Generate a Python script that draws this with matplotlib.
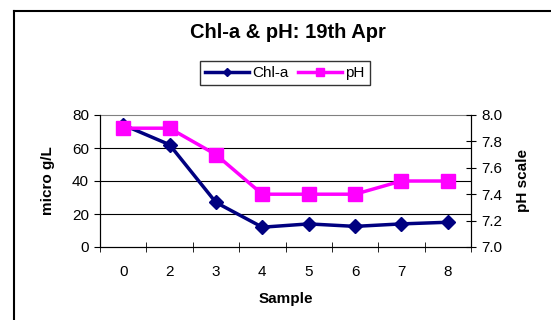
import matplotlib.pyplot as plt
from matplotlib.lines import Line2D
import numpy as np

plt.rcParams['font.family'] = ['Liberation Sans', 'DejaVu Sans']

samples = ['0', '2', '3', '4', '5', '6', '7', '8']
chla = [74, 62, 27, 12, 14, 12.5, 14, 15]
ph = [7.9, 7.9, 7.7, 7.4, 7.4, 7.4, 7.5, 7.5]

W, H = 551, 320
fig = plt.figure(figsize=(W / 100, H / 100), dpi=100)

# outer chart border (only left and top show in the crop)
fig.add_artist(Line2D([14 / W, 14 / W], [0, 1 - 11 / H], color='black', lw=1.5))
fig.add_artist(Line2D([14 / W, 1], [1 - 11 / H, 1 - 11 / H], color='black', lw=1.5))

ax = fig.add_axes([100 / W, 1 - 247 / H, 371 / W, 132 / H])
ax2 = ax.twinx()

x = np.arange(len(samples))
l1, = ax.plot(x, chla, color='#000080', lw=2.5, marker='D', ms=7.5, zorder=3,
              label='Chl-a')
l2, = ax2.plot(x, ph, color='#FF00FF', lw=2.5, marker='s', ms=9.5, zorder=3,
               label='pH')

ax.set_xlim(-0.5, len(samples) - 0.5)
ax.set_ylim(0, 80)
ax2.set_ylim(7.0, 8.0)
ax.set_yticks([0, 20, 40, 60, 80])
ax2.set_yticks([7.0, 7.2, 7.4, 7.6, 7.8, 8.0])
ax2.set_yticklabels(['7.0', '7.2', '7.4', '7.6', '7.8', '8.0'])

ax.set_xticks(x)
ax.set_xticklabels(samples)
ax.set_xticks(np.arange(-0.5, len(samples)), minor=True)
ax.tick_params(axis='x', which='major', length=0, pad=13, labelsize=11)
ax.tick_params(axis='x', which='minor', length=7, direction='inout')
ax.tick_params(axis='y', length=4, direction='out', labelsize=11, pad=4)
ax2.tick_params(axis='y', length=7, direction='inout', labelsize=11, pad=4)

for yv in [20, 40, 60]:
    ax.axhline(yv, color='black', lw=0.8, zorder=1)

ax.spines['top'].set_color('#808080')
for s in ['left', 'bottom']:
    ax.spines[s].set_color('black')
ax2.spines['right'].set_color('black')
ax2.spines['top'].set_visible(False)

ax.set_xlabel('Sample', fontsize=11, fontweight='bold', labelpad=9)
ax.set_ylabel('micro g/L', fontsize=11, fontweight='bold', labelpad=12)
ax2.set_ylabel('pH scale', fontsize=11, fontweight='bold', labelpad=10)

fig.text(288 / W, 1 - 33 / H, 'Chl-a & pH: 19th Apr', ha='center', va='center',
         fontsize=14.5, fontweight='bold')

leg = fig.legend(handles=[l1, l2], loc='center', bbox_to_anchor=(285 / W, 1 - 73 / H),
                 ncol=2, fontsize=11, frameon=True, fancybox=False,
                 handlelength=2.9, handletextpad=0.2, columnspacing=0.6,
                 borderpad=0.35, borderaxespad=0, markerscale=0.6)
leg.get_frame().set_edgecolor('black')
leg.get_frame().set_linewidth(1)

fig.savefig('out.png', dpi=100)
